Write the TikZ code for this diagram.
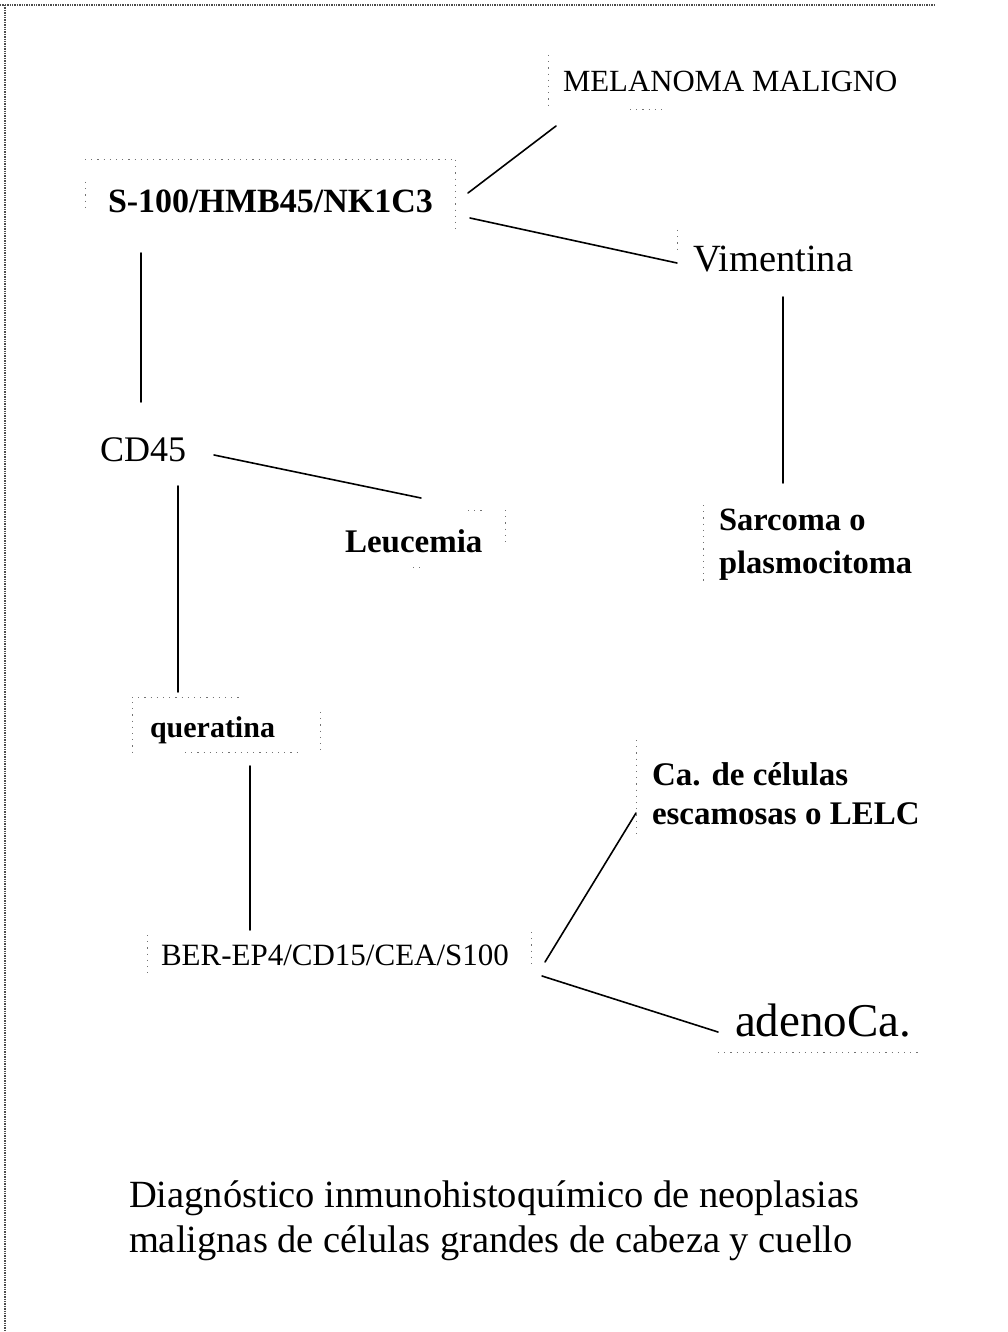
\documentclass[tikz,border=0pt]{standalone}
\usepackage{fontspec}
\setmainfont{Liberation Serif}
\newcommand\fsz[1]{\fontsize{#1}{#1}\selectfont}
\begin{document}
\begin{tikzpicture}[x=1pt,y=-1pt,
  lbl/.style={anchor=base west, inner sep=0pt, outer sep=0pt},
  link/.style={line width=1.6pt, line cap=round},
  frame/.style={black!55, dash pattern=on 1.2pt off 5pt, line width=1pt},
  edge/.style={black!70, densely dotted, line width=1.4pt}]
\useasboundingbox (0,0) rectangle (1007,1332);
\fill[white] (0,0) rectangle (1007,1332);

% page edges
\draw[edge] (0,5) -- (935,5);
\draw[edge] (5,5) -- (5,1330);

% labels
\node[lbl] (mel)   at (563,92)   {\fsz{30.8}MELANOMA MALIGNO};
\node[lbl] (s100)  at (108,213)  {\fsz{34}\bfseries S-100/HMB45/NK1C3};
\node[lbl] (vim)   at (693,272)  {\fsz{38.5}Vimentina};
\node[lbl] (cd45)  at (100,461)  {\fsz{36}CD45};
\node[lbl] (leu)   at (345,552)  {\fsz{33}\bfseries Leucemia};
\node[lbl] (sar)   at (719,530)  {\fsz{32.5}\bfseries Sarcoma o};
\node[lbl] (sarb)  at (719,573)  {\fsz{32.5}\bfseries plasmocitoma};
\node[lbl] (quer)  at (150,737)  {\fsz{30}\bfseries queratina};
\node[lbl] (ca)    at (652,785)  {\fsz{33}\bfseries Ca. de células};
\node[lbl] (cab)   at (652,824)  {\fsz{33}\bfseries escamosas o LELC};
\node[lbl] (ber)   at (161,965)  {\fsz{31}BER-EP4/CD15/CEA/S100};
\node[lbl] (adeno) at (735,1036) {\fsz{47}adenoCa.};
\node[lbl] (capa)  at (129,1207) {\fsz{38.5}Diagnóstico inmunohistoquímico de neoplasias};
\node[lbl] (capb)  at (129,1252) {\fsz{38.5}malignas de células grandes de cabeza y cuello};

% connectors
\draw[link] ([shift={(360,-20)}]s100.base west) -- ([shift={(-7,34)}]mel.base west);
\draw[link] ([shift={(362,5)}]s100.base west)   -- ([shift={(-16,-9)}]vim.base west);
\draw[link] ([shift={(33,40)}]s100.base west)   -- ([shift={(41,-59)}]cd45.base west);
\draw[link] ([shift={(90,25)}]vim.base west)    -- ([shift={(64,-47)}]sar.base west);
\draw[link] ([shift={(114,-6)}]cd45.base west)  -- ([shift={(76,-54)}]leu.base west);
\draw[link] ([shift={(78,25)}]cd45.base west)   -- ([shift={(28,-45)}]quer.base west);
\draw[link] ([shift={(100,29)}]quer.base west)  -- ([shift={(89,-35)}]ber.base west);
\draw[link] ([shift={(384,-3)}]ber.base west)   -- ([shift={(-16,28)}]ca.base west);
\draw[link] ([shift={(381,11)}]ber.base west)   -- ([shift={(-17,-4)}]adeno.base west);

% faint text-box outlines
\draw[frame] (548,55) -- (548,105);
\draw[frame] (630,110) -- (662,110);
\draw[frame] (85,160) -- (455,160);
\draw[frame] (455,160) -- (455,230);
\draw[frame] (85,182) -- (85,210);
\draw[frame] (677,230) -- (677,250);
\draw[frame] (505,510) -- (505,545);
\draw[frame] (468,510) -- (482,510);
\draw[frame] (413,567) -- (420,567);
\draw[frame] (703,505) -- (703,585);
\draw[frame] (132,697) -- (240,697);
\draw[frame] (132,702) -- (132,755);
\draw[frame] (320,712) -- (320,755);
\draw[frame] (185,752) -- (300,752);
\draw[frame] (636,740) -- (636,835);
\draw[frame] (147,935) -- (147,975);
\draw[frame] (531,932) -- (531,965);
\draw[frame] (718,1052) -- (918,1052);
\end{tikzpicture}
\end{document}
